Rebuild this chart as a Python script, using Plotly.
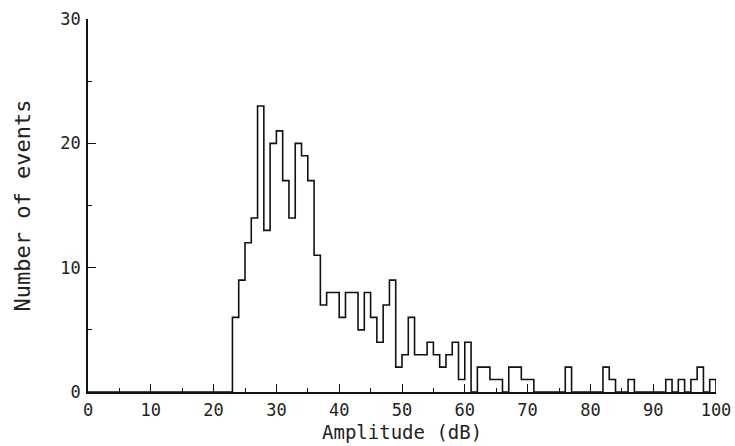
import plotly.graph_objects as go

# Histogram counts per 1 dB bin, bins 0-1, 1-2, ..., 99-100 dB
counts = [
    0, 0, 0, 0, 0, 0, 0, 0, 0, 0,      # 0-9
    0, 0, 0, 0, 0, 0, 0, 0, 0, 0,      # 10-19
    0, 0, 0, 6, 9, 12, 14, 23, 13, 20, # 20-29
    21, 17, 14, 20, 19, 17, 11, 7, 8, 8,  # 30-39
    6, 8, 8, 5, 8, 6, 4, 7, 9, 2,      # 40-49
    3, 6, 3, 3, 4, 3, 2, 3, 4, 1,      # 50-59
    4, 0, 2, 2, 1, 1, 0, 2, 2, 1,      # 60-69
    1, 0, 0, 0, 0, 0, 2, 0, 0, 0,      # 70-79
    0, 0, 2, 1, 0, 0, 1, 0, 0, 0,      # 80-89
    0, 0, 1, 0, 1, 0, 1, 2, 0, 1,      # 90-99
]
bin_start = 0
bin_width = 1
x_tick_vals = [0, 10, 20, 30, 40, 50, 60, 70, 80, 90, 100]
y_tick_vals = [0, 10, 20, 30]
x_title = "Amplitude (dB)"
y_title = "Number of events"

edges = [bin_start + i * bin_width for i in range(len(counts) + 1)]
xs = edges[:-1] + [edges[-1]]
ys = counts + [0]

FONT = "DejaVu Sans Mono"
INK = "#111111"
TEXT = "#222222"

fig = go.Figure()
fig.add_trace(go.Scatter(
    x=xs, y=ys, mode="lines", line=dict(shape="hv", color=INK, width=1.6),
    hoverinfo="skip", showlegend=False,
))

fig.update_layout(
    width=735, height=446,
    margin=dict(l=88, r=19, t=19, b=54, autoexpand=False),
    paper_bgcolor="white", plot_bgcolor="white",
    font=dict(family=FONT, size=17, color=TEXT),
)
common = dict(
    ticks="inside", ticklen=8, tickwidth=1.2, tickcolor=INK,
    showline=True, linecolor=INK, linewidth=1.5, showgrid=False, zeroline=False,
    minor=dict(dtick=5, tick0=0, ticks="inside", ticklen=4, tickcolor=INK, showgrid=False),
    tickfont=dict(family=FONT, size=17, color=TEXT), automargin=False,
)
fig.update_xaxes(range=[0, 100], tickvals=x_tick_vals, ticklabelstandoff=2, **common)
fig.update_yaxes(range=[0, 30], tickvals=y_tick_vals, ticklabelstandoff=2, **common)

fig.add_annotation(text=x_title, xref="paper", yref="paper", x=0.5, y=0,
                   yshift=-40, showarrow=False, font=dict(family=FONT, size=19, color=TEXT),
                   xanchor="center", yanchor="middle")
fig.add_annotation(text=y_title, xref="paper", yref="paper", x=0, y=0.5,
                   xshift=-66, showarrow=False, textangle=-90,
                   font=dict(family=FONT, size=22, color=TEXT),
                   xanchor="center", yanchor="middle")

fig.write_html("out.html", config={"displayModeBar": False},
               post_script="document.body.style.margin='0';")
